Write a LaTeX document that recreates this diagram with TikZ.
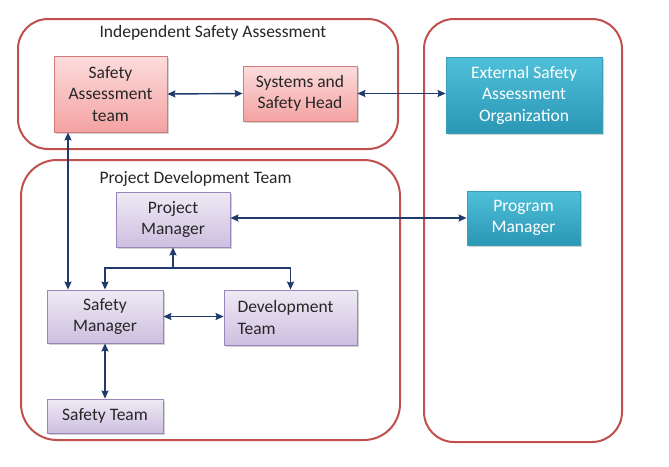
\documentclass[tikz,border=0pt]{standalone}
\usepackage{fontspec}
\setmainfont{Carlito}
\usepackage{tikz}
\usetikzlibrary{arrows.meta,positioning,calc,shadows}
\definecolor{groupred}{HTML}{C0504D}
\definecolor{pinktop}{HTML}{FCDCDC}
\definecolor{pinkbot}{HTML}{F4A2A2}
\definecolor{pinkline}{HTML}{D27C7A}
\definecolor{lavtop}{HTML}{EFEAF5}
\definecolor{lavbot}{HTML}{CDBFE0}
\definecolor{lavline}{HTML}{9B86BA}
\definecolor{tealtop}{HTML}{50C0DA}
\definecolor{tealbot}{HTML}{2A97B5}
\definecolor{tealline}{HTML}{3A9DB8}
\definecolor{linknavy}{HTML}{1F3A6B}
\definecolor{textgray}{HTML}{262626}
\tikzset{
  group/.style={draw=groupred,line width=2pt,rounded corners=30pt},
  grouptitle/.style={anchor=base west,text=textgray},
  link/.style={draw=linknavy,line width=1.4pt,{Stealth[length=8pt,width=7pt,inset=1pt]}-{Stealth[length=8pt,width=7pt,inset=1pt]}},
  linkend/.style={draw=linknavy,line width=1.8pt,-{Stealth[length=8pt,width=7pt,inset=1pt]}}
}
\newcommand{\orgbox}[6][]{\node[draw=#2line,line width=0.8pt,top color=#2top,bottom color=#2bot,
  drop shadow={shadow xshift=1.5pt,shadow yshift=-1.5pt,opacity=0.35},
  minimum width=#4pt,minimum height=#5pt,align=center,inner sep=1pt,text=textgray,#1] (#3) {#6};}

\begin{document}
\begin{tikzpicture}[x=1pt,y=-1pt,font=\fontsize{17.5}{21.5}\selectfont]
\useasboundingbox[fill=white] (0,0) rectangle (669,466);
% groups
\node[group,minimum width=380pt,minimum height=130pt] (isa) at (208,84) {};
\node[group,rounded corners=36pt,minimum width=379pt,minimum height=280pt] (pdt) at (210.5,300) {};
\node[group,minimum width=198pt,minimum height=423pt] (ext) at (523,230.5) {};
\node[grouptitle] (isatitle) at (96,37) {Independent Safety Assessment};
\node[grouptitle] (pdttitle) at (96,183) {Project Development Team};
% boxes
\orgbox[at={(110.5,94)}]{pink}{sat}{113}{76}{Safety\\Assessment\\team}
\orgbox[at={(300,93.5)}]{pink}{ssh}{114}{55}{Systems and\\Safety Head}
\orgbox[at={(524,95)},text=white]{teal}{esao}{156}{76}{External Safety\\Assessment\\Organization}
\orgbox[at={(173,219.5)}]{lav}{pm}{114}{55}{Project\\Manager}
\orgbox[at={(523.5,218)},text=white]{teal}{prgm}{113}{54}{Program\\Manager}
\orgbox[at={(105,316.5)}]{lav}{sm}{116}{53}{Safety\\Manager}
\orgbox[at={(290.5,317.5)},align=left]{lav}{dt}{133}{55}{Development\hspace*{10pt}\\Team}
\orgbox[at={(105,416)}]{lav}{st}{116}{34}{Safety Team}
% connectors
\coordinate (vx) at (68,0);
\coordinate (split) at (173,268);
\draw[link] (sat.east) -- (ssh.west);
\draw[link] (ssh.east) -- (esao.west |- ssh.east);
\draw[link] (prgm.west) -- (pm.east |- prgm.west);
\draw[link] (sat.south -| vx) -- (sm.north -| vx);
\draw[linkend] (split) -- (pm.south);
\draw[linkend] (split) -| (sm.north);
\draw[linkend] (split) -| (dt.north);
\draw[link] (sm.east) -- (dt.west |- sm.east);
\draw[link] (sm.south) -- (st.north);
\end{tikzpicture}
\end{document}
